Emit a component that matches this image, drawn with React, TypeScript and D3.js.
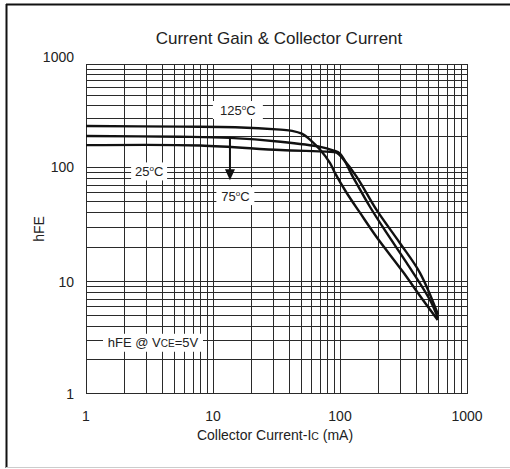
import * as d3 from "d3";

// hFE vs collector current
const ic125 = [1, 5.5, 15, 34, 42, 50, 58, 70, 83.5, 91.4, 113, 144, 194, 313, 427, 588];
const hfe125 = [252, 248, 245, 232, 226, 212, 186, 147, 110, 89, 59.6, 39.9, 24.6, 12.2, 7.45, 4.55];

const ic75 = [1, 5.5, 13.6, 34, 70, 88, 100, 126, 172, 233, 335, 511, 591];
const hfe75 = [201, 198, 193, 177, 158, 146, 136, 83, 45.2, 26.7, 14.6, 6.86, 4.7];

const ic25 = [1, 7.9, 34, 78, 94, 106, 135, 194, 296, 427, 591];
const hfe25 = [164, 163, 147, 142, 139, 120, 83, 42.4, 21.8, 11.9, 5.1];

const xTicks = [1, 10, 100, 1000];
const yTicks = [1, 10, 100, 1000];

const W = 510;
const H = 469;
const FONT = "'Liberation Sans', Arial, sans-serif";

const x = d3.scaleLog().domain([1, 1000]).range([86, 467]);
// the scanned grid is not quite uniform per decade
const y = d3.scaleLog().domain([1, 10, 100, 1000]).range([393.7, 281.7, 167.3, 64.3]);

const minor = (lo: number, hi: number) => {
  const out: number[] = [];
  for (let p = lo; p < hi; p *= 10) for (let k = 1; k < 10; k++) out.push(p * k);
  out.push(hi);
  return out;
};

const line = d3
  .line<[number, number]>()
  .x(d => x(d[0]))
  .y(d => y(d[1]))
  .curve(d3.curveCatmullRom.alpha(0.5));

const series = [
  { name: "125", ic: ic125, hfe: hfe125 },
  { name: "75", ic: ic75, hfe: hfe75 },
  { name: "25", ic: ic25, hfe: hfe25 },
];

const Deg = ({ t }: { t: string }) => (
  <>
    {t}
    <tspan fontSize={8} dy={-5}>o</tspan>
    <tspan dy={5}>C</tspan>
  </>
);

const Label = ({ cx, cy, w, children }: { cx: number; cy: number; w: number; children: any }) => (
  <g>
    <rect x={cx - w / 2} y={cy - 9} width={w} height={18} fill="#fff" />
    <text x={cx} y={cy + 4.5} textAnchor="middle" fontSize={13} fill="#222">
      {children}
    </text>
  </g>
);

export default function App() {
  const gx = minor(1, 1000);
  const gy = minor(1, 1000);
  const arrowX = x(13.6);
  const arrowTop = y(193);
  const arrowTip = y(77);

  return (
    <svg width={W} height={H} style={{ position: "absolute", left: 0, top: 0 }} fontFamily={FONT}>
      <rect width={W} height={H} fill="#fff" />
      {/* frame */}
      <line x1={6.5} x2={6.5} y1={4} y2={468} stroke="#111" strokeWidth={2} />
      <line x1={6} x2={W} y1={4.5} y2={4.5} stroke="#111" strokeWidth={2} />
      <line x1={6} x2={W} y1={467.5} y2={467.5} stroke="#ccc" strokeWidth={1} />

      <text x={279} y={44} textAnchor="middle" fontSize={17} fill="#222">
        Current Gain &amp; Collector Current
      </text>

      {/* grid */}
      <g stroke="#2a2a2a" strokeWidth={1} shapeRendering="crispEdges">
        {gx.map((v, i) => (
          <line key={"x" + i} x1={x(v)} x2={x(v)} y1={y(1000)} y2={y(1)} />
        ))}
        {gy.map((v, i) => (
          <line key={"y" + i} x1={x(1)} x2={x(1000)} y1={y(v)} y2={y(v)} />
        ))}
      </g>

      {/* labels with white backing */}
      <Label cx={x(15.7)} cy={y(360)} w={50}>
        <Deg t="125" />
      </Label>
      <Label cx={x(15)} cy={y(56)} w={38}>
        <Deg t="75" />
      </Label>
      <Label cx={x(3.14)} cy={y(92)} w={36}>
        <Deg t="25" />
      </Label>
      <Label cx={x(3.37)} cy={y(2.85)} w={100}>
        hFE @ V<tspan fontSize={10}>CE</tspan>=5V
      </Label>

      {/* curves */}
      <g fill="none" stroke="#111" strokeWidth={2.4} strokeLinejoin="round">
        {series.map(s => (
          <path key={s.name} d={line(s.ic.map((c, i) => [c, s.hfe[i]] as [number, number])) || ""} />
        ))}
      </g>

      {/* arrow */}
      <line x1={arrowX} x2={arrowX} y1={arrowTop} y2={arrowTip - 8} stroke="#111" strokeWidth={2} />
      <path
        d={`M${arrowX - 5},${arrowTip - 11}L${arrowX + 5},${arrowTip - 11}L${arrowX},${arrowTip}Z`}
        fill="#111"
      />

      {/* tick labels */}
      <g fontSize={14} fill="#222">
        {yTicks.map(v => (
          <text key={"yt" + v} x={74} y={y(v) + 5 - (v === 1000 ? 7 : 0)} textAnchor="end">
            {v}
          </text>
        ))}
        {xTicks.map(v => (
          <text key={"xt" + v} x={x(v)} y={421} textAnchor="middle">
            {v}
          </text>
        ))}
      </g>

      <text x={275} y={440} textAnchor="middle" fontSize={14} fill="#222">
        Collector Current-I<tspan fontSize={10.5}>C</tspan> (mA)
      </text>
      <text transform="translate(44,229) rotate(-90)" textAnchor="middle" fontSize={14} fill="#222">
        hFE
      </text>
    </svg>
  );
}
